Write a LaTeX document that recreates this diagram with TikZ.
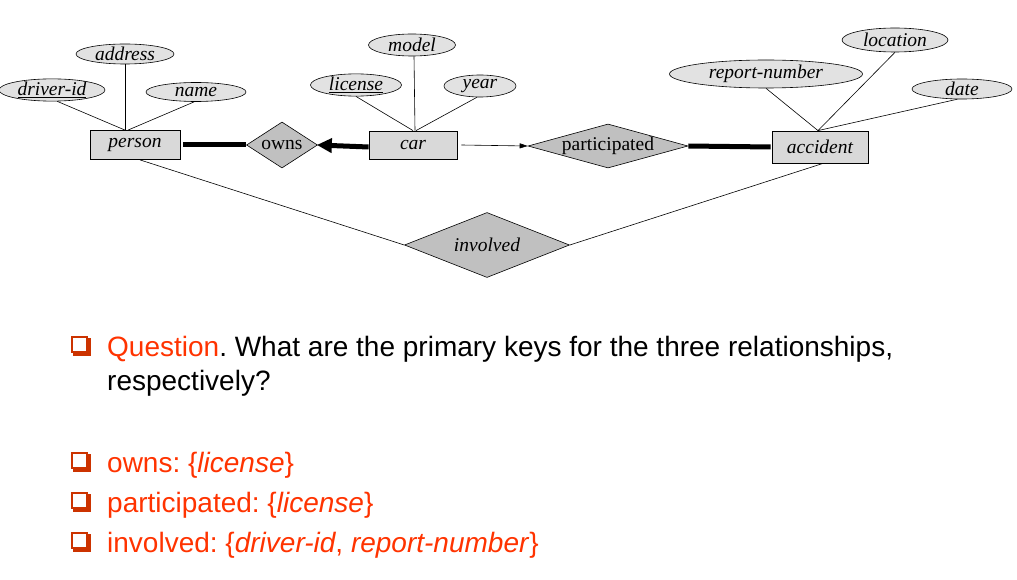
\documentclass[tikz,border=0pt]{standalone}
\usepackage{fontspec}
\setmainfont{Liberation Serif}
\setsansfont{Liberation Sans}
\usepackage{tikz}
\usetikzlibrary{arrows.meta,positioning,shapes.geometric,calc}
\definecolor{attrg}{HTML}{E2E2E2}
\definecolor{entg}{HTML}{D9D9D9}
\definecolor{relg}{HTML}{C0C0C0}
\definecolor{qred}{HTML}{FF3300}
\definecolor{qreddk}{HTML}{CC3300}
\frenchspacing
\newcommand{\erfont}{\fontsize{19.5}{22}\selectfont}
\tikzset{
  attr/.style     = {ellipse, draw=black, line width=0.6pt, fill=attrg,
                     inner sep=0pt, font=\erfont\itshape},
  ent/.style      = {rectangle, draw=black, line width=0.8pt, fill=entg,
                     inner sep=0pt, font=\erfont\itshape},
  rel/.style      = {diamond, draw=black, line width=0.6pt, fill=relg,
                     inner sep=0pt, font=\erfont},
  lnk/.style      = {draw=black, line width=0.6pt},
  lnkthick/.style = {draw=black, line width=5pt},
  txt/.style      = {anchor=base west, inner sep=0pt,
                     font=\sffamily\fontsize{28}{33}\selectfont},
}
\newcommand{\qbullet}[2]{%              % #1 = x, #2 = y (top left)
  \fill[qreddk] ({#1+2},{#2+2}) rectangle ({#1+20},{#2+20});
  \filldraw[fill=white, draw=qreddk, line width=1.6pt]
    ({#1+1},{#2+1}) rectangle ({#1+16},{#2+16});}

\begin{document}
\begin{tikzpicture}[x=1pt,y=-1pt]
  \useasboundingbox (0,0) rectangle (1017,580);
  % entities
  \node[ent, minimum width=90pt, minimum height=29pt] (person) at (135,145) {person};
  \node[ent, minimum width=88pt, minimum height=28pt] (car) at (413,145) {car};
  \node[ent, minimum width=96pt, minimum height=32pt] (accident) at (820,147) {accident};
  % relationships
  \node[rel, minimum width=71pt, minimum height=46pt,
        label={[font=\erfont]center:owns}] (owns) at (282,145) {};
  \node[rel, minimum width=160pt, minimum height=44pt,
        label={[font=\erfont]center:participated}] (partic) at (608,146) {};
  \node[rel, minimum width=165pt, minimum height=65pt,
        label={[font=\erfont\itshape]center:involved}] (involved) at (487,245) {};
  % attributes
  \node[attr, minimum width=98pt, minimum height=20pt] (addr) at (125,54) {address};
  \node[attr, minimum width=106pt, minimum height=22pt] (drvid) at (52,90) {\underline{driver-id}};
  \node[attr, minimum width=100pt, minimum height=19pt] (pname) at (196,92) {name};
  \node[attr, minimum width=87pt, minimum height=22pt] (model) at (412,45) {model};
  \node[attr, minimum width=91pt, minimum height=22pt] (lic) at (356,85) {\underline{license}};
  \node[attr, minimum width=72pt, minimum height=22pt] (year) at (480,86) {year};
  \node[attr, minimum width=193pt, minimum height=28pt] (repno) at (766,74) {report-number};
  \node[attr, minimum width=106pt, minimum height=24pt] (loc) at (895,40) {location};
  \node[attr, minimum width=100pt, minimum height=20pt] (adate) at (962,89) {date};
  % attribute links
  \draw[lnk] (addr.south) -- ([xshift=-10pt]person.north);
  \draw[lnk] (drvid.-65) -- ([xshift=-10pt]person.north);
  \draw[lnk] (pname.-100) -- ([xshift=-7pt]person.north);
  \draw[lnk] ([xshift=2pt]model.south) -- ([xshift=2pt]car.north);
  \draw[lnk] (lic.south) -- (car.north);
  \draw[lnk] (year.-105) -- ([xshift=3pt]car.north);
  \draw[lnk] (repno.south) -- ([xshift=-2pt]accident.north);
  \draw[lnk] (loc.south) -- ([xshift=-2pt]accident.north);
  \draw[lnk] (adate.-115) -- ([xshift=-2pt]accident.north);
  % relationship links
  \draw[lnkthick] ([xshift=3pt]person.east) -- (owns.west);
  \draw[lnkthick, -{Triangle[length=15pt, width=14pt]}, shorten >=-1pt]
    ([yshift=-2pt]car.west) -- (owns.east);
  \draw[lnk, -{Triangle[length=8pt, width=5pt]}] ([xshift=4pt]car.east) -- (partic.west);
  \draw[lnkthick] (partic.east) -- ([xshift=-1pt]accident.west);
  \draw[lnk] ([xshift=5pt]person.south) -- (involved.west);
  \draw[lnk] ([xshift=3pt]accident.south) -- (involved.east);
  % question text
  \qbullet{71}{336}
  \node[txt] (q1) at (107,356) {\textcolor{qred}{Question}. What are the primary keys for the three relationships,};
  \node[txt] (q2) at (107,390) {respectively?};
  \qbullet{71}{452}
  \node[txt, text=qred] (a1) at (107,472) {owns: \{\textit{license}\}};
  \qbullet{71}{492}
  \node[txt, text=qred] (a2) at (107,512) {participated: \{\textit{license}\}};
  \qbullet{71}{532}
  \node[txt, text=qred] (a3) at (107,552) {involved: \{\textit{driver-id}, \textit{report-number}\}};
\end{tikzpicture}
\end{document}
